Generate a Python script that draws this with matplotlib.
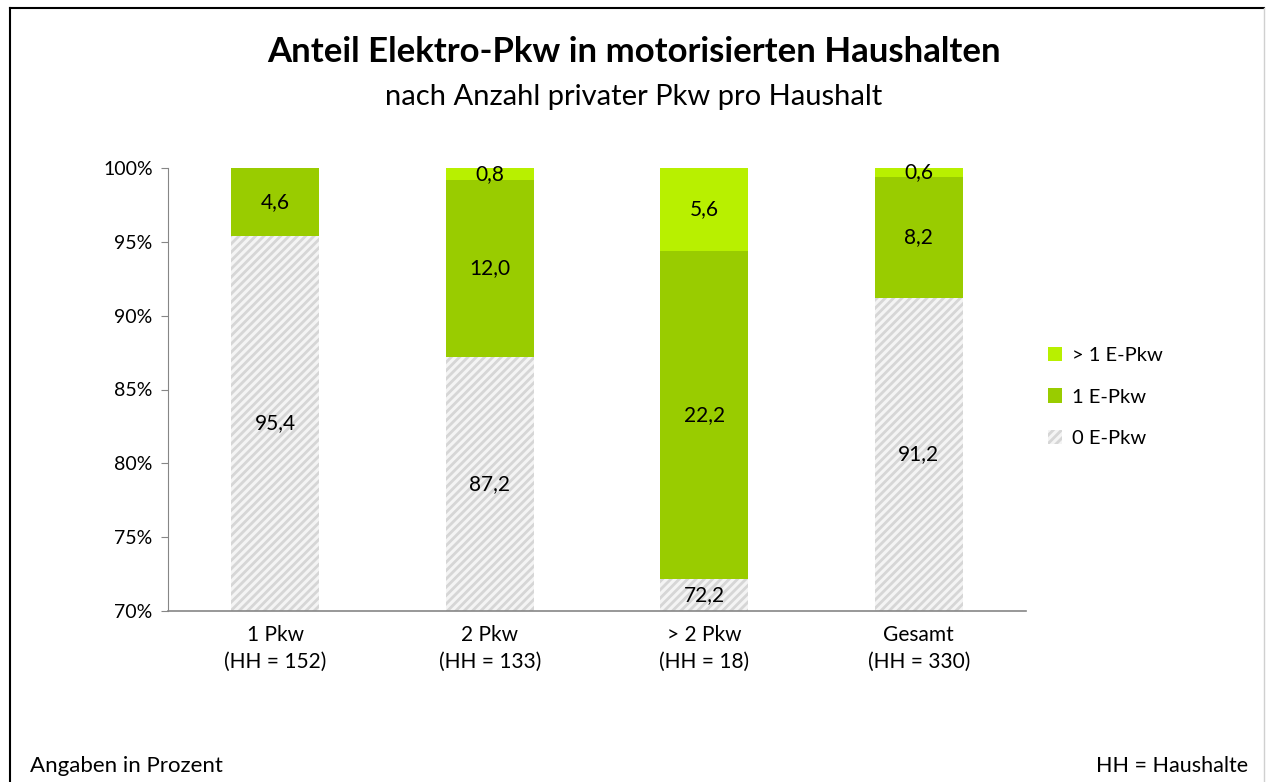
import numpy as np
import matplotlib.pyplot as plt
from matplotlib.patches import Rectangle

plt.rcParams['font.family'] = ['Lato', 'DejaVu Sans']
plt.rcParams['hatch.linewidth'] = 2.0

# Data
categories = ['1 Pkw\n(HH = 152)', '2 Pkw\n(HH = 133)', '> 2 Pkw\n(HH = 18)', 'Gesamt\n(HH = 330)']
zero_epkw = [95.4, 87.2, 72.2, 91.2]
one_epkw = [4.6, 12.0, 22.2, 8.2]
more_epkw = [0.0, 0.8, 5.6, 0.6]
series_names = ['0 E-Pkw', '1 E-Pkw', '> 1 E-Pkw']
yticks = [70, 75, 80, 85, 90, 95, 100]

col_one = '#99CC00'
col_more = '#B8F000'
col_zero_face = '#F4F4F4'
col_zero_hatch = '#D6D6D6'
plt.rcParams['hatch.color'] = col_zero_hatch

fig = plt.figure(figsize=(12.68, 7.82), dpi=100)
ax = fig.add_axes([168 / 1268, 1 - 611 / 782, 858 / 1268, 443 / 782])

x = np.arange(len(categories))
w = 0.41
zero = np.array(zero_epkw)
one = np.array(one_epkw)
more = np.array(more_epkw)
ymin = 70

ax.bar(x, zero, w, color=col_zero_face, hatch='////', edgecolor=col_zero_hatch, linewidth=0)
ax.bar(x, one, w, bottom=zero, color=col_one, linewidth=0)
ax.bar(x, more, w, bottom=zero + one, color=col_more, linewidth=0)

def fmt(v):
    return f'{v:.1f}'.replace('.', ',')

for i in range(len(x)):
    # label of the hatched part sits in its visible section
    y0 = (ymin + zero[i]) / 2
    ax.text(x[i], y0, fmt(zero[i]), ha='center', va='center', fontsize=15)
    ax.text(x[i], zero[i] + one[i] / 2, fmt(one[i]), ha='center', va='center', fontsize=15)
    if more[i] > 0:
        ax.text(x[i], zero[i] + one[i] + more[i] / 2, fmt(more[i]), ha='center', va='center', fontsize=15)

ax.set_ylim(ymin, 100)
ax.set_xlim(-0.5, 3.5)
ax.set_yticks(yticks)
ax.set_yticklabels([f'{t}%' for t in yticks], fontsize=14)
ax.set_xticks(x)
ax.set_xticklabels(categories, fontsize=15, linespacing=1.45)
ax.tick_params(axis='x', length=0, pad=10)
ax.tick_params(axis='y', length=5, color='#868686', pad=6)
for s in ['top', 'right']:
    ax.spines[s].set_visible(False)
ax.spines['left'].set_color('#868686')
ax.spines['bottom'].set_color('#868686')
ax.spines['bottom'].set_linewidth(1.2)

# Legend
handles = [Rectangle((0, 0), 1, 1, facecolor=col_more, linewidth=0),
           Rectangle((0, 0), 1, 1, facecolor=col_one, linewidth=0),
           Rectangle((0, 0), 1, 1, facecolor=col_zero_face, hatch='////', edgecolor=col_zero_hatch, linewidth=0)]
fig.legend(handles, series_names[::-1], loc='center left', bbox_to_anchor=(1030 / 1268, 1 - 397 / 782),
           frameon=False, fontsize=14.5, handlelength=0.7, handleheight=0.7, labelspacing=1.2, handletextpad=0.5)

fig.text(0.5, 1 - 52 / 782, 'Anteil Elektro-Pkw in motorisierten Haushalten', ha='center', va='center',
         fontsize=25, fontweight='bold')
fig.text(0.5, 1 - 97 / 782, 'nach Anzahl privater Pkw pro Haushalt', ha='center', va='center', fontsize=21)
fig.text(30 / 1268, 1 - 766 / 782, 'Angaben in Prozent', ha='left', va='center', fontsize=16)
fig.text(1248 / 1268, 1 - 766 / 782, 'HH = Haushalte', ha='right', va='center', fontsize=15.5)

# figure frame
fig.add_artist(plt.Line2D([10 / 1268, 10 / 1268], [0, 1 - 8 / 782], transform=fig.transFigure, color='black', lw=1.5))
fig.add_artist(plt.Line2D([10 / 1268, 1264 / 1268], [1 - 8 / 782, 1 - 8 / 782], transform=fig.transFigure, color='black', lw=1.5))
fig.add_artist(plt.Line2D([1264 / 1268, 1264 / 1268], [0, 1 - 8 / 782], transform=fig.transFigure, color='#d0d0d0', lw=1))

fig.savefig('out.png', dpi=100)
